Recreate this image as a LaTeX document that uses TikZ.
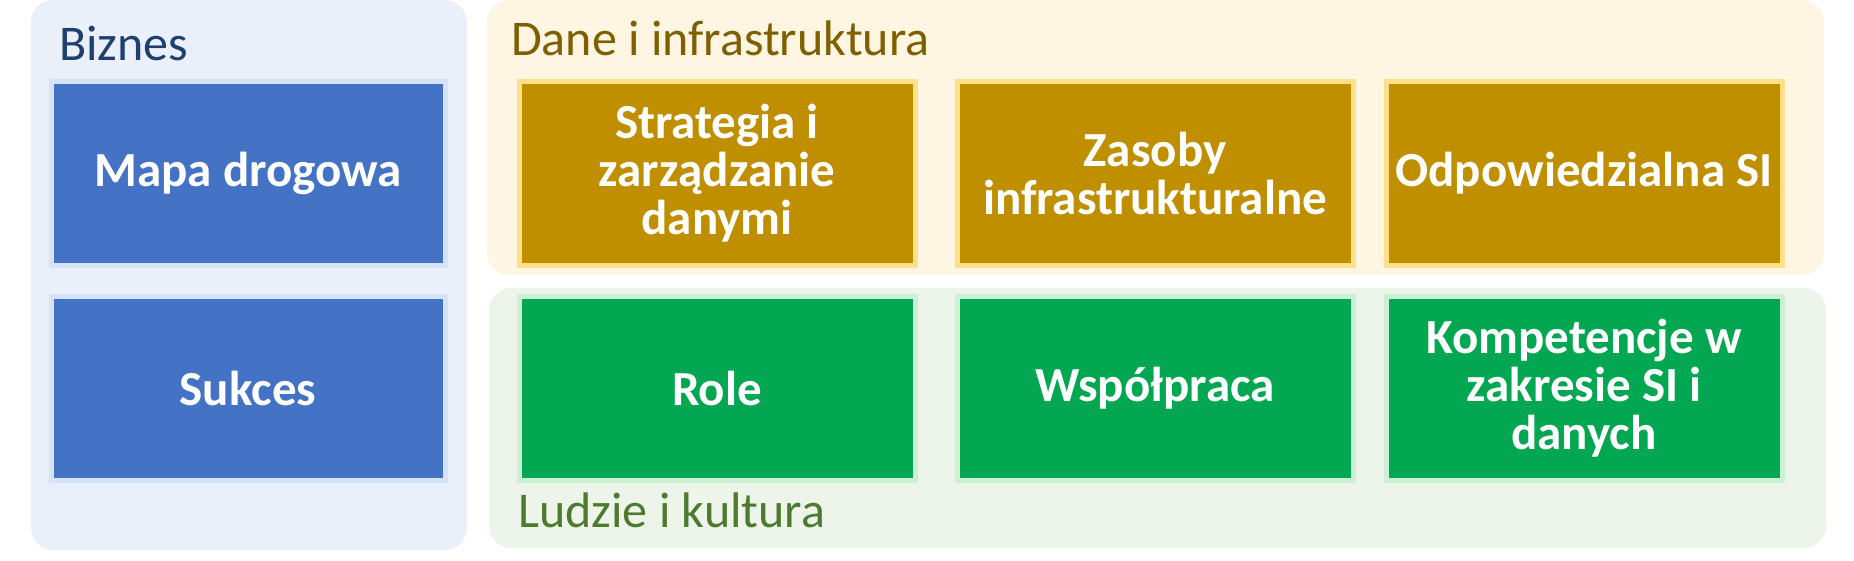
\documentclass[tikz,border=0pt]{standalone}
\usepackage{fontspec}
\setmainfont{Carlito}

\definecolor{bizTlo}{HTML}{EAF0F9}
\definecolor{bizBlok}{HTML}{4472C4}
\definecolor{bizRamka}{HTML}{D6E2F5}
\definecolor{bizTekst}{HTML}{1F3F6E}
\definecolor{daneTlo}{HTML}{FEF5E2}
\definecolor{daneBlok}{HTML}{BF8F00}
\definecolor{daneRamka}{HTML}{FFE08A}
\definecolor{daneTekst}{HTML}{7F6000}
\definecolor{ludzieTlo}{HTML}{EDF5EA}
\definecolor{ludzieBlok}{HTML}{03A651}
\definecolor{ludzieRamka}{HTML}{CDEFD3}
\definecolor{ludzieTekst}{HTML}{4E7A2E}

\begin{document}
\begin{tikzpicture}[x=1pt, y=-1pt,
        panel/.style={rounded corners=22pt},
        blok/.style={draw, line width=5pt, minimum width=396pt, minimum height=184pt,
            text=white, align=center, inner sep=0pt,
            font=\bfseries\fontsize{49}{48}\selectfont},
        tytul/.style={anchor=base west, inner sep=0pt, font=\fontsize{50}{56}\selectfont}]
            \useasboundingbox (0, 0) rectangle (1854, 560);

            \fill[panel, bizTlo] (31, 0) rectangle (467, 550);
            \fill[panel, daneTlo] (487, 0) rectangle (1824, 275);
            \fill[panel, ludzieTlo] (489, 288) rectangle (1826, 548);

            \node[tytul, text=bizTekst] (biznes) at (59, 60) {Biznes};
            \node[tytul, text=daneTekst] (dane) at (511, 55) {Dane i infrastruktura};
            \node[tytul, text=ludzieTekst] (ludzie) at (518, 527) {Ludzie i kultura};

            \node[blok, fill=bizBlok, draw=bizRamka, minimum width=394pt] (mapa) at (248, 173) {Mapa drogowa};
            \node[blok, fill=bizBlok, draw=bizRamka, minimum width=394pt] (sukces) at (248, 388) {Sukces};

            \node[blok, fill=daneBlok, draw=daneRamka] (strategia) at (717, 173) {Strategia i\\zarządzanie\\danymi};
            \node[blok, fill=daneBlok, draw=daneRamka] (zasoby) at (1155, 173) {Zasoby\\infrastrukturalne};
            \node[blok, fill=daneBlok, draw=daneRamka] (odpowiedzialna) at (1584, 173) {Odpowiedzialna SI};

            \node[blok, fill=ludzieBlok, draw=ludzieRamka] (role) at (717, 388) {Role};
            \node[blok, fill=ludzieBlok, draw=ludzieRamka] (wspolpraca) at (1155, 388) {Współpraca};
            \node[blok, fill=ludzieBlok, draw=ludzieRamka] (kompetencje) at (1584, 388) {Kompetencje w\\zakresie SI i\\danych};
        \end{tikzpicture}
\end{document}
